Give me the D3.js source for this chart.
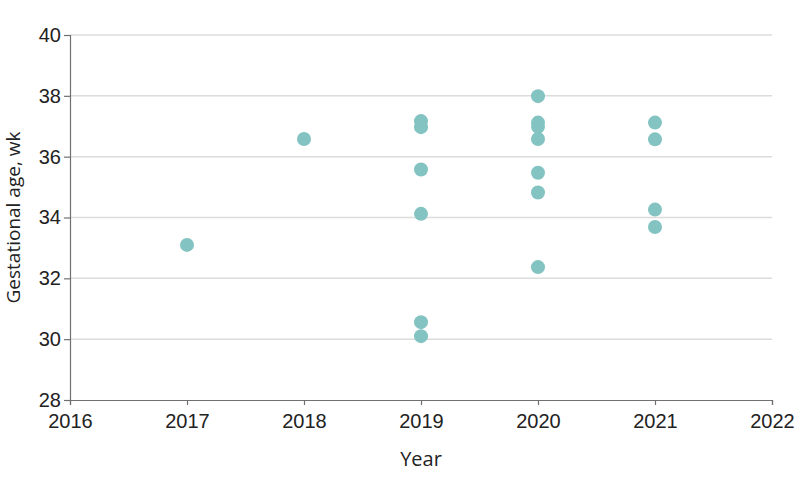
<!DOCTYPE html>
<html>
<head>
<meta charset="utf-8">
<script src="https://cdn.jsdelivr.net/npm/d3@7"></script>
<style>
  body { margin: 0; background: #fff; }
  svg { display: block; font-family: "Open Sans", "Noto Sans", sans-serif; }
  .tick text { fill: #222; }
</style>
</head>
<body>
<div id="chart"></div>
<script>
// gestational age (wk) per case, grouped by year
const years = [2017, 2018, 2019, 2020, 2021]
const ages2017 = [33.1]
const ages2018 = [36.58]
const ages2019 = [37.17, 36.97, 35.58, 34.12, 30.56, 30.1]
const ages2020 = [37.99, 37.12, 36.98, 36.58, 35.47, 34.82, 32.37]
const ages2021 = [37.12, 36.57, 34.26, 33.69]
const xTicks = [2016, 2017, 2018, 2019, 2020, 2021, 2022]
const yTicks = [28, 30, 32, 34, 36, 38, 40]

const groups = [ages2017, ages2018, ages2019, ages2020, ages2021]
const data = []
years.forEach((yr, i) => {
  groups[i].forEach(v => data.push({year: yr, age: v}))
})

const width = 798, height = 485
const margin = {top: 35, right: 26, bottom: 85, left: 70}

const svg = d3.select("#chart").append("svg")
  .attr("width", width)
  .attr("height", height)

const x = d3.scaleLinear()
  .domain([2016, 2022])
  .range([margin.left, width - margin.right])

const y = d3.scaleLinear()
  .domain([28, 40])
  .range([height - margin.bottom, margin.top])

// gridlines
svg.append("g")
  .selectAll("line")
  .data(yTicks.filter(d => d > 28))
  .join("line")
    .attr("x1", x(2016))
    .attr("x2", x(2022))
    .attr("y1", d => y(d))
    .attr("y2", d => y(d))
    .attr("stroke", "#dcdcdc")
    .attr("stroke-width", 1.5)

const xAxis = svg.append("g")
  .attr("transform", `translate(0,${y(28)})`)
  .call(d3.axisBottom(x).tickValues(xTicks).tickFormat(d3.format("d")).tickSizeOuter(0).tickSize(5).tickPadding(9))
xAxis.selectAll("text").style("font-size", "20px")

const yAxis = svg.append("g")
  .attr("transform", `translate(${x(2016)},0)`)
  .call(d3.axisLeft(y).tickValues(yTicks).tickSizeOuter(0).tickSize(6).tickPadding(3))
yAxis.selectAll("text").style("font-size", "20px")

svg.selectAll(".domain, .tick line").attr("stroke", "#707070").attr("stroke-width", 1.2)

svg.append("text")
  .attr("x", x(2019))
  .attr("y", 466)
  .attr("text-anchor", "middle")
  .style("font-size", "20px")
  .attr("fill", "#222")
  .text("Year")

svg.append("text")
  .attr("transform", `translate(20,${(y(28) + y(40)) / 2}) rotate(-90)`)
  .attr("text-anchor", "middle")
  .style("font-size", "19px")
  .attr("fill", "#222")
  .text("Gestational age, wk")

svg.append("g")
  .selectAll("circle")
  .data(data)
  .join("circle")
    .attr("cx", d => x(d.year))
    .attr("cy", d => y(d.age))
    .attr("r", 7)
    .attr("fill", "#83c3c1")
</script>
</body>
</html>
